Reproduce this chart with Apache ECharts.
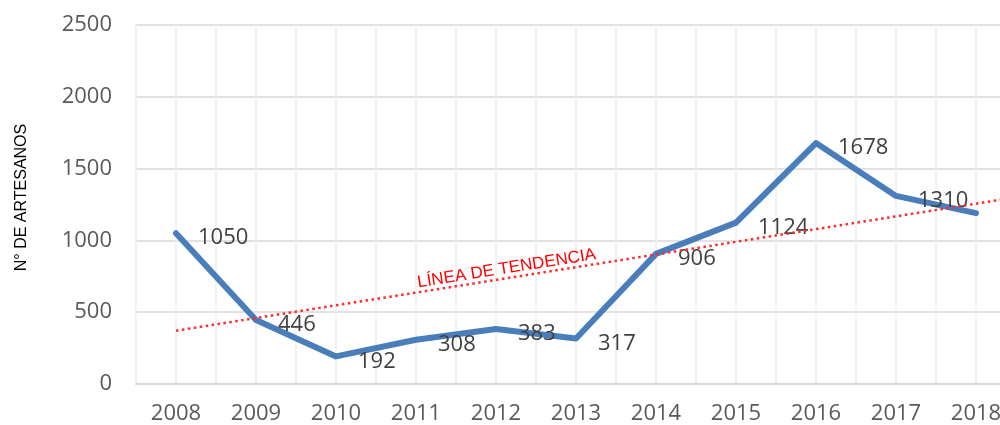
<!DOCTYPE html>
<html>
<head>
<meta charset="utf-8">
<script src="https://cdn.jsdelivr.net/npm/echarts@6/dist/echarts.min.js"></script>
<style>
  html, body { margin: 0; padding: 0; background: #fff; }
  #chart { width: 1000px; height: 425px; }
</style>
</head>
<body>
<div id="chart"></div>
<script>
  // datos
  const years = ['2008', '2009', '2010', '2011', '2012', '2013', '2014', '2015', '2016', '2017', '2018'];
  const artesanos = [1050, 446, 192, 308, 383, 317, 906, 1124, 1678, 1310, 1190];
  // extremos de la linea de tendencia (indice de año, valor)
  const trendX = [0, 10.5];
  const trendY = [371, 1300];
  const trendText = 'LÍNEA DE TENDENCIA';
  const trendLabelAt = 4.15;

  const chart = echarts.init(document.getElementById('chart'));
  const font = '"Open Sans", "Liberation Sans", sans-serif';

  chart.setOption({
    animation: false,
    grid: { left: 136, top: 25, width: 880, bottom: 41, outerBoundsMode: 'none', containLabel: false },
    xAxis: {
      type: 'value',
      min: -0.5,
      max: 10.5,
      interval: 0.5,
      axisLine: { show: true, lineStyle: { color: '#d9d9d9', width: 2 } },
      axisTick: { show: false },
      axisLabel: {
        margin: 19,
        color: '#595959',
        fontSize: 22,
        fontFamily: font,
        formatter: v => Number.isInteger(v) ? (years[v] || '') : ''
      },
      splitLine: { show: true, lineStyle: { color: '#eeeeee', width: 1.5 } }
    },
    yAxis: {
      type: 'value',
      min: 0,
      max: 2500,
      interval: 500,
      name: 'N° DE ARTESANOS',
      nameLocation: 'middle',
      nameGap: 106,
      nameTextStyle: { color: '#000', fontSize: 16, fontFamily: '"Liberation Sans", Arial, sans-serif', padding: [0, 0, 0, 14] },
      axisLine: { show: false },
      axisTick: { show: false },
      axisLabel: { margin: 24, color: '#595959', fontSize: 22, fontFamily: font, formatter: v => String(v) },
      splitLine: { lineStyle: { color: '#d9d9d9', width: 1.5 } }
    },
    series: [
      {
        name: 'tendencia',
        type: 'line',
        data: trendX.map((x, i) => [x, trendY[i]]),
        symbol: 'none',
        silent: true,
        lineStyle: { color: '#ff2a2a', width: 2.5, type: [2.5, 3.5] },
        z: 3
      },
      {
        name: 'artesanos',
        type: 'line',
        data: artesanos.map((v, i) => [i, v]),
        symbol: 'circle',
        symbolSize: 2,
        showSymbol: true,
        itemStyle: { color: '#4a7ebb' },
        lineStyle: { color: '#4a7ebb', width: 6, join: 'round', cap: 'round' },
        label: {
          show: true,
          position: [23, 6],
          align: 'left',
          verticalAlign: 'middle',
          color: '#404040',
          fontSize: 22,
          fontFamily: font,
          formatter: p => String(p.value[1])
        },
        labelLayout: { hideOverlap: false },
        z: 2
      }
    ]
  });

  // etiqueta de la linea de tendencia, girada segun la pendiente
  const p1 = chart.convertToPixel({ gridIndex: 0 }, [trendX[0], trendY[0]]);
  const p2 = chart.convertToPixel({ gridIndex: 0 }, [trendX[1], trendY[1]]);
  const t = (trendLabelAt - trendX[0]) / (trendX[1] - trendX[0]);
  const lx = p1[0] + (p2[0] - p1[0]) * t;
  const ly = p1[1] + (p2[1] - p1[1]) * t;
  const ang = Math.atan2(-(p2[1] - p1[1]), p2[0] - p1[0]);
  chart.setOption({
    graphic: [{
      type: 'text',
      x: lx,
      y: ly - 1,
      rotation: ang,
      style: {
        text: trendText,
        fill: '#ff0000',
        font: '17px "Liberation Sans", Arial, sans-serif',
        align: 'center',
        verticalAlign: 'bottom'
      },
      z: 10
    }]
  });
</script>
</body>
</html>
